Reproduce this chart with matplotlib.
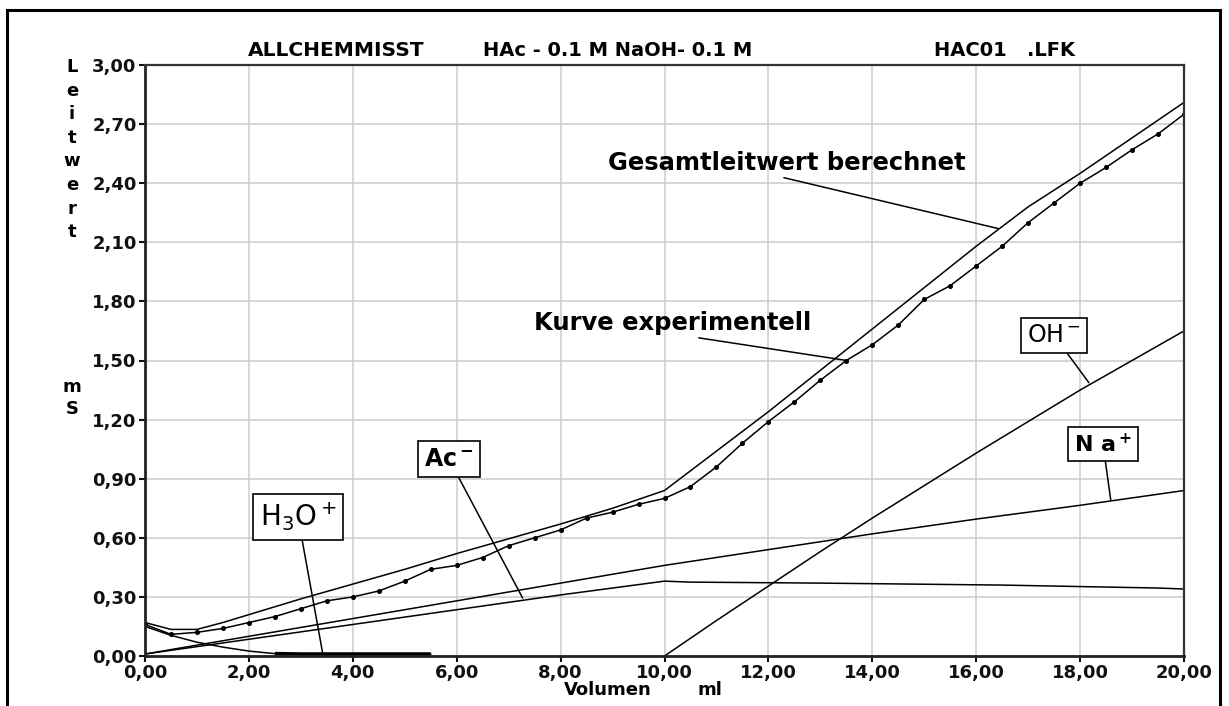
import numpy as np
import matplotlib
matplotlib.use('Agg')
import matplotlib.pyplot as plt
from matplotlib.patches import Rectangle

plt.rcParams['font.family'] = ['DejaVu Sans']
plt.rcParams['mathtext.default'] = 'regular'

# experimental conductivity (dots every 0.5 ml)
vol_exp = [0, 0.5, 1, 1.5, 2, 2.5, 3, 3.5, 4, 4.5, 5, 5.5, 6, 6.5, 7, 7.5, 8, 8.5, 9, 9.5, 10,
           10.5, 11, 11.5, 12, 12.5, 13, 13.5, 14, 14.5, 15, 15.5, 16, 16.5, 17, 17.5, 18, 18.5, 19, 19.5, 20]
leit_exp = [0.16, 0.11, 0.12, 0.14, 0.17, 0.20, 0.24, 0.28, 0.30, 0.33, 0.38, 0.44, 0.46, 0.50, 0.56, 0.60,
            0.64, 0.70, 0.73, 0.77, 0.80, 0.86, 0.96, 1.08, 1.19, 1.29, 1.40, 1.50, 1.58, 1.68, 1.81, 1.88,
            1.98, 2.08, 2.20, 2.30, 2.40, 2.48, 2.57, 2.65, 2.75]

# calculated total conductivity
vol_calc = [0, 0.5, 1, 1.5, 2, 3, 4, 5, 6, 7, 8, 9, 10, 11, 12, 13, 14, 15, 16, 17, 18, 19, 20]
leit_calc = [0.17, 0.135, 0.135, 0.17, 0.21, 0.29, 0.365, 0.44, 0.52, 0.595, 0.67, 0.75, 0.84,
             1.04, 1.24, 1.45, 1.66, 1.87, 2.08, 2.28, 2.45, 2.63, 2.81]

# single ions
vol_na = [0, 2, 4, 6, 8, 10, 12, 14, 16, 18, 20]
leit_na = [0.01, 0.10, 0.19, 0.28, 0.37, 0.46, 0.54, 0.62, 0.695, 0.765, 0.84]

vol_ac = [0, 2, 4, 6, 8, 10, 10.5, 13, 16.5, 19.5, 20]
leit_ac = [0.01, 0.085, 0.16, 0.235, 0.31, 0.38, 0.375, 0.37, 0.36, 0.345, 0.34]

vol_oh = [10, 11, 12, 13, 14, 15, 16, 17, 18, 19, 20]
leit_oh = [0, 0.18, 0.355, 0.53, 0.70, 0.865, 1.03, 1.19, 1.35, 1.50, 1.65]

vol_h3o = [0, 0.5, 1, 1.5, 2, 2.5, 3, 4, 5, 5.5]
leit_h3o = [0.15, 0.105, 0.07, 0.045, 0.025, 0.012, 0.01, 0.01, 0.01, 0.01]

x_ticks = [0, 2, 4, 6, 8, 10, 12, 14, 16, 18, 20]
y_ticks = [0, 0.3, 0.6, 0.9, 1.2, 1.5, 1.8, 2.1, 2.4, 2.7, 3.0]
x_labels = [('%.2f' % v).replace('.', ',') for v in x_ticks]
y_labels = [('%.2f' % v).replace('.', ',') for v in y_ticks]

W, H = 1229, 706
fig = plt.figure(figsize=(W / 100, H / 100), dpi=100)
ax = fig.add_axes([145 / W, 1 - 656 / H, (1184 - 145) / W, (656 - 65) / H])

ax.set_xlim(0, 20)
ax.set_ylim(0, 3)
ax.set_xticks(x_ticks)
ax.set_xticklabels(x_labels, fontsize=13, fontweight='bold')
ax.set_yticks(y_ticks)
ax.set_yticklabels(y_labels, fontsize=13, fontweight='bold')
ax.tick_params(direction='out', length=4, width=1.5, pad=2, colors='#111')
ax.grid(color='#cbcbcb', lw=1.1)
ax.set_axisbelow(True)
for side in ['left', 'bottom']:
    ax.spines[side].set_linewidth(2)
    ax.spines[side].set_color('#222')
for side in ['top', 'right']:
    ax.spines[side].set_linewidth(1.6)
    ax.spines[side].set_color('#333')

# curves
ax.plot(vol_calc, leit_calc, color='black', lw=1.1)
ax.plot(vol_exp, leit_exp, color='black', lw=1.1, marker='o', ms=2.6)
ax.plot(vol_na, leit_na, color='black', lw=1.1)
ax.plot(vol_ac, leit_ac, color='black', lw=1.1)
ax.plot(vol_oh, leit_oh, color='black', lw=1.1)
ax.plot(vol_h3o, leit_h3o, color='black', lw=1.1)
ax.plot(vol_h3o[5:], leit_h3o[5:], color='black', lw=2.6, solid_capstyle='butt')

box = dict(boxstyle='square,pad=0.25', fc='white', ec='black', lw=1.2)
line = dict(arrowstyle='-', color='black', lw=1.1, shrinkA=0, shrinkB=0)

ax.annotate('H$_3$O$^+$', xy=(3.42, 0.014), xytext=(2.945, 0.705), ha='center', va='center',
            fontsize=20, bbox=dict(box, pad=0.4), arrowprops=line)
ax.annotate('Ac$^-$', xy=(7.27, 0.294), xytext=(5.85, 1.0), ha='center', va='center',
            fontsize=17, fontweight='bold', bbox=box, arrowprops=line)
ax.annotate('OH$^-$', xy=(18.17, 1.387), xytext=(17.5, 1.627), ha='center', va='center',
            fontsize=17, bbox=dict(box, pad=0.15), arrowprops=line)
ax.annotate('N a$^+$', xy=(18.59, 0.792), xytext=(18.44, 1.076), ha='center', va='center',
            fontsize=16, fontweight='bold', bbox=dict(box, pad=0.4), arrowprops=line)

ax.annotate('Gesamtleitwert berechnet', xy=(16.42, 2.17), xytext=(12.36, 2.503), ha='center', va='center',
            fontsize=17.5, fontweight='bold',
            arrowprops=dict(line, relpos=(0.43, 0.1)))
ax.annotate('Kurve experimentell', xy=(13.51, 1.50), xytext=(10.16, 1.69), ha='center', va='center',
            fontsize=17.5, fontweight='bold',
            arrowprops=dict(line, relpos=(0.5, 0.05)))

# header and axis texts
fig.text(248 / W, 1 - 50 / H, 'ALLCHEMMISST', ha='left', va='center', fontsize=14.5, fontweight='bold')
fig.text(483 / W, 1 - 50 / H, 'HAc - 0.1 M NaOH- 0.1 M', ha='left', va='center', fontsize=14, fontweight='bold')
fig.text(934 / W, 1 - 50 / H, 'HAC01   .LFK', ha='left', va='center', fontsize=14, fontweight='bold')

fig.text(72 / W, 1 - 58 / H, 'L\ne\ni\nt\nw\ne\nr\nt', ha='center', va='top', ma='center',
         fontsize=13, fontweight='bold', linespacing=1.4)
fig.text(72 / W, 1 - 398 / H, 'm\nS', ha='center', va='center', ma='center',
         fontsize=13, fontweight='bold', linespacing=1.3)
fig.text(608 / W, 1 - 690 / H, 'Volumen', ha='center', va='center', fontsize=13, fontweight='bold')
fig.text(710 / W, 1 - 690 / H, 'ml', ha='center', va='center', fontsize=13, fontweight='bold')

# outer frame
fig.add_artist(Rectangle((7 / W, -0.05), (1220 - 7) / W, 1.05 - 10 / H, transform=fig.transFigure,
                         fill=False, ec='black', lw=2.2))

fig.savefig('out.png', dpi=100, facecolor='white')
